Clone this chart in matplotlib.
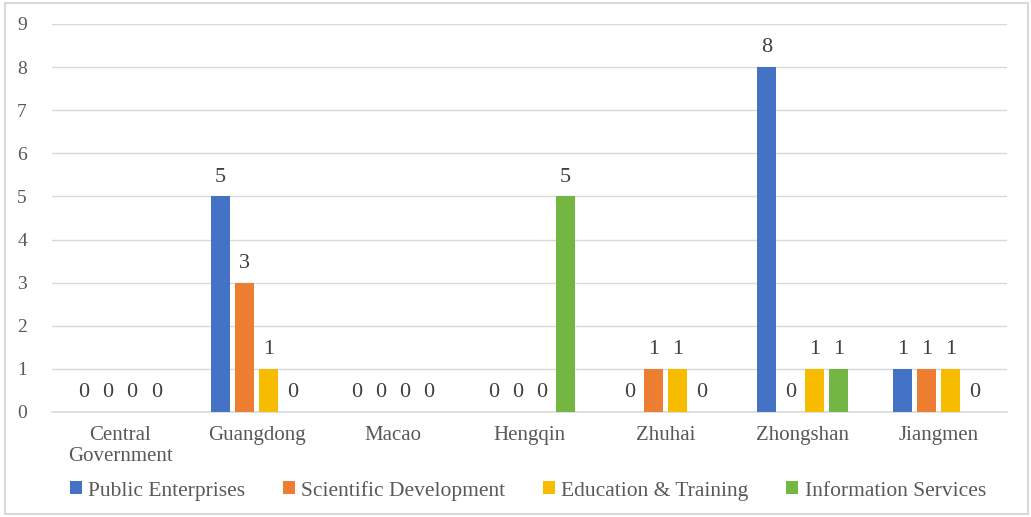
import numpy as np
import matplotlib.pyplot as plt
from matplotlib.patches import Rectangle

plt.rcParams['font.family'] = ['Liberation Serif', 'DejaVu Serif']

regions = ['Central\nGovernment', 'Guangdong', 'Macao', 'Hengqin', 'Zhuhai', 'Zhongshan', 'Jiangmen']
series = ['Public Enterprises', 'Scientific Development', 'Education & Training', 'Information Services']
public_enterprises = [0, 5, 0, 0, 0, 8, 1]
scientific_dev = [0, 3, 0, 0, 1, 0, 1]
education_training = [0, 1, 0, 0, 1, 1, 1]
info_services = [0, 0, 0, 5, 0, 1, 0]
colors = ['#4472C4', '#ED7D31', '#F7BC00', '#74B644']

fig = plt.figure(figsize=(10.31, 5.17), dpi=100)
ax = fig.add_axes([0.0504, 0.2031, 0.9263, 0.7505])

x = np.arange(len(regions))
slot = 0.176
width = 0.14
data = [public_enterprises, scientific_dev, education_training, info_services]
for i, (vals, name, c) in enumerate(zip(data, series, colors)):
    pos = x + (i - 1.5) * slot
    ax.bar(pos, vals, width, color=c, label=name, zorder=3)
    for p, v in zip(pos, vals):
        ax.annotate(str(v), (p, v), xytext=(0, 7), textcoords='offset points',
                    ha='center', va='bottom', fontsize=16, color='#404040')

ax.set_xlim(-0.5, len(regions) - 0.5)
ax.set_ylim(0, 9)
ax.set_yticks(range(0, 10))
ax.yaxis.grid(True, color='#D9D9D9', linewidth=1, zorder=0)
for s in ['top', 'right', 'left']:
    ax.spines[s].set_visible(False)
ax.spines['bottom'].set_color('#D9D9D9')
ax.spines['bottom'].set_linewidth(1.2)
ax.tick_params(axis='both', length=0, colors='#595959')
ax.tick_params(axis='y', pad=18, labelsize=14)
ax.tick_params(axis='x', pad=10, labelsize=15)
ax.set_xticks(x)
ax.set_xticklabels(regions, linespacing=1.15)

fig.legend(loc='center', bbox_to_anchor=(0.512, 0.051), ncol=4, frameon=False,
           fontsize=15.5, handlelength=0.55, handleheight=0.55, handletextpad=0.3,
           columnspacing=1.75, labelcolor='#595959')

fig.patches.append(Rectangle((0.005, 0.005), 0.992, 0.99, transform=fig.transFigure,
                             fill=False, edgecolor='#D9D9D9', linewidth=1.5))

fig.savefig('out.png', dpi=100)
